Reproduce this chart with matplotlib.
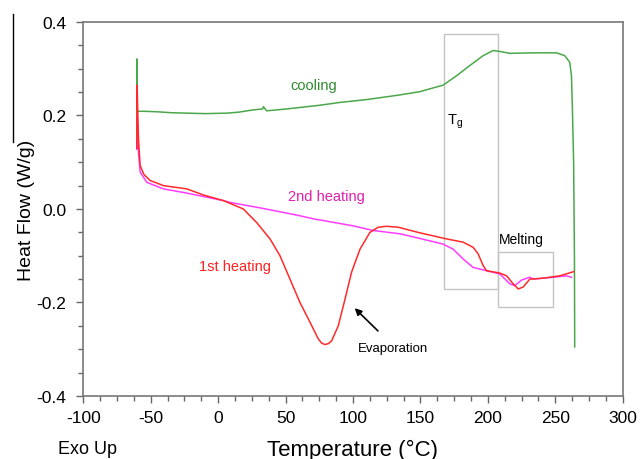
import matplotlib
matplotlib.use("Agg")
import matplotlib.pyplot as plt
from matplotlib.patches import Rectangle
from matplotlib.lines import Line2D
from matplotlib.ticker import MultipleLocator

# DSC traces (temperature in C, heat flow in W/g)
cool_t = [-60.2, -60.2, -60.0, -59.8, -55, -45.4, -35, -23.2, -10, 6.4, 15, 26.1, 33.0,
          33.6, 36, 50.9, 75.6, 90.4, 110, 134.8, 149.6, 166.9, 176.8, 186.7, 196.5,
          203.9, 208.9, 216.3, 233.6, 250.9, 257.0, 260.7, 262.0, 262.7, 263.6, 264.2,
          264.4]
cool_hf = [0.167, 0.321, 0.21, 0.209, 0.209, 0.208, 0.206, 0.205, 0.204, 0.205, 0.207, 0.212,
           0.214, 0.219, 0.210, 0.214, 0.222, 0.228, 0.234, 0.244, 0.251, 0.265, 0.285,
           0.307, 0.328, 0.339, 0.337, 0.333, 0.334, 0.334, 0.328, 0.314, 0.285, 0.214,
           0.10, -0.10, -0.295]

heat1_t = [-60.3, -60.0, -59.5, -59.0, -57.8, -55, -50.4, -40.5, -23.2, -10.9, 3.9, 8.9,
           18.7, 28.6, 38.5, 45.9, 53.3, 60.7, 68.1, 74.3, 76.8, 79.3, 81.7, 84.2, 89.1,
           94.1, 99.0, 105.2, 112.6, 118.7, 125.0, 133.6, 149.6, 169.4, 181.7, 189.1,
           192.8, 196.5, 199.0, 208.9, 213.9, 218.8, 222.5, 226.2, 231.1, 241.0, 253.3,
           263.7]
heat1_hf = [0.13, 0.265, 0.20, 0.15, 0.093, 0.074, 0.061, 0.050, 0.043, 0.030, 0.018, 0.012,
            0.0, -0.029, -0.064, -0.100, -0.150, -0.200, -0.242, -0.278, -0.287, -0.290,
            -0.288, -0.282, -0.250, -0.193, -0.135, -0.086, -0.050, -0.039, -0.037, -0.039,
            -0.051, -0.064, -0.071, -0.082, -0.096, -0.121, -0.132, -0.137, -0.143, -0.160,
            -0.171, -0.167, -0.150, -0.148, -0.143, -0.134]

heat2_t = [-60.2, -60.0, -59.0, -57.8, -52.8, -40.5, -23.2, 3.9, 8.9, 30, 58.3, 70.6, 100,
           115.0, 134.8, 149.6, 166.7, 174.3, 181.7, 189.1, 199.0, 208.9, 216.3, 220.0,
           225.0, 231.1, 233.6, 248.4, 258.3, 262.0]
heat2_hf = [0.128, 0.20, 0.12, 0.079, 0.057, 0.043, 0.034, 0.018, 0.014, 0.003, -0.013,
            -0.021, -0.036, -0.046, -0.053, -0.063, -0.075, -0.086, -0.107, -0.125, -0.132,
            -0.139, -0.160, -0.164, -0.152, -0.146, -0.150, -0.146, -0.143, -0.146]

# highlighted regions: (x0, x1, y0, y1)
tg_box = (167.4, 207.4, -0.171, 0.374)
melt_box = (207.4, 248.1, -0.209, -0.093)

plt.rcParams["font.family"] = ["Liberation Sans", "DejaVu Sans"]
plt.rcParams["axes.unicode_minus"] = False

fig = plt.figure(figsize=(6.4, 4.6), dpi=100)
ax = fig.add_axes([0.130, 0.137, 0.843, 0.813])

ax.plot(cool_t, cool_hf, color="#4aa84a", lw=1.1)
ax.plot(heat2_t, heat2_hf, color="#ff3cff", lw=1.1)
ax.plot(heat1_t, heat1_hf, color="#ff2a2a", lw=1.1)

for x0, x1, y0, y1 in (tg_box, melt_box):
    ax.add_patch(Rectangle((x0, y0), x1 - x0, y1 - y0, fill=False,
                           edgecolor="#c4c4c4", lw=1.0))

ax.text(71, 0.265, "cooling", color="#2e8b2e", fontsize=10.5, ha="center", va="center")
ax.text(80, 0.028, "2nd heating", color="#e020b0", fontsize=10.5, ha="center", va="center")
ax.text(12.6, -0.122, "1st heating", color="#ff2020", fontsize=10.5, ha="center", va="center")
ax.text(175.6, 0.188, r"T$_\mathregular{g}$", color="black", fontsize=10.5,
        ha="center", va="center")
ax.text(225, -0.064, "Melting", color="black", fontsize=10, ha="center", va="center")
ax.text(129.6, -0.297, "Evaporation", color="black", fontsize=9.5, ha="center", va="center")
ax.annotate("", xy=(99.8, -0.208), xytext=(120, -0.265),
            arrowprops=dict(arrowstyle="-|>", color="black", lw=1.2, mutation_scale=10))

ax.set_xlim(-100, 300)
ax.set_ylim(-0.4, 0.4)
ax.xaxis.set_major_locator(MultipleLocator(50))
ax.xaxis.set_minor_locator(MultipleLocator(12.5))
ax.yaxis.set_major_locator(MultipleLocator(0.2))
ax.yaxis.set_minor_locator(MultipleLocator(0.05))
ax.yaxis.set_major_formatter(plt.FormatStrFormatter("%.1f"))

for s in ax.spines.values():
    s.set_color("#777777")
    s.set_linewidth(1.2)
ax.tick_params(which="both", direction="out", color="#666666", width=1.0)
ax.tick_params(which="major", length=5, labelsize=12.5)
ax.tick_params(which="minor", length=3.5)
ax.tick_params(axis="x", pad=5)
ax.tick_params(axis="y", pad=7)
ax.tick_params(top=False, right=False)

ax.set_xlabel("Temperature (°C)", fontsize=16, labelpad=10)
ax.set_ylabel("Heat Flow (W/g)", fontsize=14, labelpad=1)
fig.text(0.091, 0.004, "Exo Up", fontsize=13, ha="left", va="bottom")
# thin dark border line at the left edge of the scan
fig.add_artist(Line2D([0.020, 0.020], [0.967, 0.69], color="black", lw=1.0))

fig.savefig("out.png", dpi=100)
